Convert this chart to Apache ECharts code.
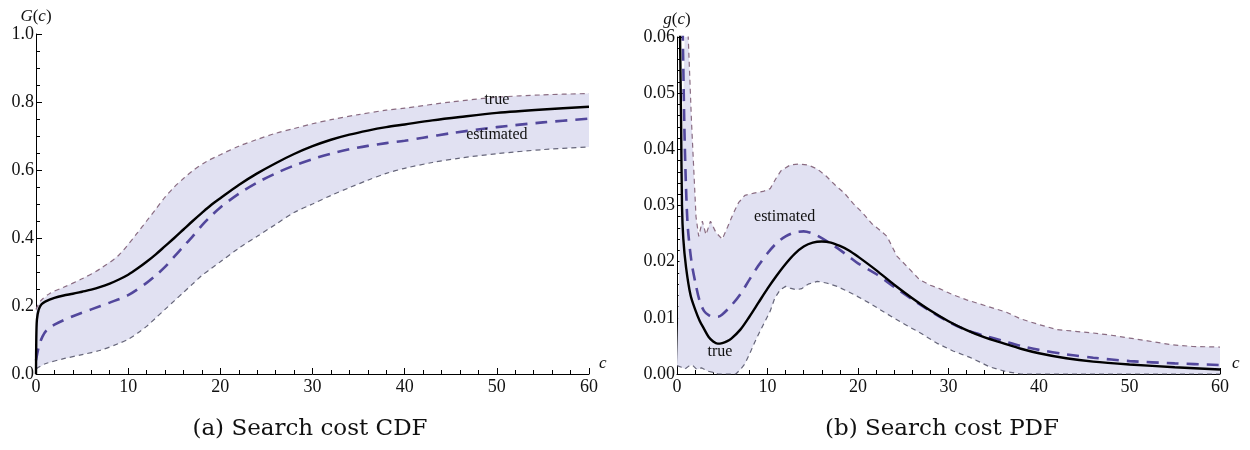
<!DOCTYPE html>
<html>
<head>
<meta charset="utf-8">
<title>Search cost CDF and PDF</title>
<script src="https://cdn.jsdelivr.net/npm/echarts@6/dist/echarts.min.js"></script>
<style>
  html, body { margin: 0; padding: 0; background: #ffffff; }
  #chart { width: 1250px; height: 450px; }
</style>
</head>
<body>
<div id="chart"></div>
<script>
// ---------- (a) Search cost CDF ----------
const cdfTrueC = [0, 0.03, 0.1, 0.3, 0.6, 1, 2, 3, 4, 5, 6, 7, 8, 9, 10, 11, 12, 13, 14, 15, 16, 17, 18, 19, 20, 22, 24, 26, 28, 30, 32, 34, 36, 38, 40, 43, 46, 50, 55, 60];
const cdfTrueG = [0, 0.1, 0.16, 0.19, 0.205, 0.213, 0.224, 0.231, 0.236, 0.242, 0.248, 0.256, 0.266, 0.278, 0.292, 0.31, 0.33, 0.352, 0.376, 0.4, 0.425, 0.45, 0.474, 0.497, 0.517, 0.556, 0.59, 0.62, 0.647, 0.67, 0.689, 0.704, 0.716, 0.726, 0.734, 0.746, 0.756, 0.768, 0.778, 0.786];

const cdfEstC = [0, 0.3, 0.7, 1.2, 2, 4, 6, 8, 10, 12, 13, 14, 15, 16, 17, 18, 19, 20, 22, 24, 26, 28, 30, 32, 34, 36, 38, 40, 42, 45, 50, 55, 60];
const cdfEstG = [0.04, 0.08, 0.11, 0.13, 0.145, 0.17, 0.19, 0.21, 0.232, 0.268, 0.29, 0.315, 0.345, 0.375, 0.405, 0.437, 0.465, 0.49, 0.53, 0.563, 0.59, 0.613, 0.632, 0.648, 0.661, 0.671, 0.679, 0.686, 0.695, 0.708, 0.726, 0.74, 0.751];

const cdfUpC = [0, 0.5, 1.5, 3, 5, 7, 9, 11, 12, 13, 14, 15, 16, 17, 18.5, 20, 22, 24, 26, 28, 30, 32, 35, 38, 40, 45, 50, 55, 60];
const cdfUpG = [0.19, 0.215, 0.237, 0.255, 0.28, 0.31, 0.35, 0.415, 0.45, 0.485, 0.52, 0.55, 0.575, 0.598, 0.625, 0.645, 0.67, 0.69, 0.708, 0.722, 0.736, 0.748, 0.763, 0.776, 0.782, 0.8, 0.814, 0.821, 0.825];

const cdfLoC = [0, 1, 3, 5, 7, 9, 10, 11, 12, 13, 14, 15, 16, 17, 18, 19, 20, 22, 24, 26, 28, 30, 32, 34, 36, 38, 40, 43, 46, 50, 55, 60];
const cdfLoG = [0.015, 0.03, 0.045, 0.057, 0.07, 0.09, 0.102, 0.12, 0.14, 0.165, 0.19, 0.215, 0.24, 0.265, 0.29, 0.31, 0.33, 0.37, 0.405, 0.44, 0.475, 0.5, 0.525, 0.548, 0.57, 0.59, 0.605, 0.622, 0.635, 0.648, 0.66, 0.668];

// ---------- (b) Search cost PDF ----------
const pdfTrueC = [0.3, 0.45, 0.55, 0.7, 1, 1.5, 2, 2.5, 3, 3.5, 4, 4.5, 5, 5.5, 6, 7, 8, 9, 10, 11, 12, 13, 14, 15, 16, 17, 18, 19, 20, 22, 24, 26, 28, 30, 32, 34, 36, 38, 40, 43, 46, 50, 55, 60];
const pdfTrueG = [0.065, 0.045, 0.03, 0.024, 0.019, 0.014, 0.0115, 0.0095, 0.008, 0.0066, 0.0058, 0.0054, 0.0055, 0.0058, 0.0063, 0.0079, 0.0102, 0.0127, 0.0152, 0.0175, 0.0196, 0.0214, 0.0227, 0.0234, 0.0236, 0.0234, 0.0228, 0.022, 0.0209, 0.0185, 0.0159, 0.0135, 0.0113, 0.0094, 0.0078, 0.0065, 0.0055, 0.0045, 0.0037, 0.0028, 0.0022, 0.0017, 0.0012, 0.0008];

const pdfEstC = [0.6, 0.8, 1.0, 1.2, 1.6, 2, 2.5, 3, 3.5, 4, 4.5, 5, 6, 7, 8, 9, 10, 11, 12, 13, 14, 15, 16, 17, 18, 19, 20, 22, 24, 26, 28, 30, 32, 34, 36, 38, 40, 43, 46, 50, 55, 60];
const pdfEstG = [0.065, 0.045, 0.033, 0.026, 0.02, 0.0165, 0.013, 0.0112, 0.0105, 0.0102, 0.0102, 0.0106, 0.0122, 0.0142, 0.0168, 0.0193, 0.0215, 0.0233, 0.0245, 0.0252, 0.0254, 0.025, 0.0242, 0.0232, 0.0221, 0.0209, 0.0197, 0.0178, 0.0155, 0.0133, 0.0112, 0.0093, 0.0078, 0.0068, 0.0059, 0.005, 0.0043, 0.0035, 0.0029, 0.0023, 0.0019, 0.0016];

const pdfUpC = [1.0, 1.6, 2.1, 2.4, 2.8, 3.2, 3.7, 4.3, 5.0, 5.6, 6.2, 6.8, 7.5, 8.5, 9.5, 10.3, 11, 11.5, 12.5, 13.5, 14.5, 15.5, 16.5, 17.5, 18.5, 19.5, 20.5, 21.5, 22.5, 23.2, 24.3, 25.5, 26.8, 28, 29, 30.5, 32, 34, 36.4, 38, 40, 42, 44, 46, 48, 50, 52, 54.7, 57, 60];
const pdfUpG = [0.07, 0.045, 0.028, 0.0245, 0.0272, 0.0248, 0.0272, 0.0252, 0.024, 0.0262, 0.0285, 0.0305, 0.0318, 0.0322, 0.0325, 0.033, 0.035, 0.0362, 0.0372, 0.0374, 0.0372, 0.0365, 0.0352, 0.0336, 0.0322, 0.0303, 0.0287, 0.0268, 0.0255, 0.0245, 0.021, 0.019, 0.0168, 0.0158, 0.0152, 0.0141, 0.0132, 0.0122, 0.011, 0.0098, 0.0088, 0.0079, 0.0076, 0.0073, 0.0069, 0.0064, 0.0059, 0.0052, 0.0049, 0.0048];

const pdfLoC = [0, 0.5, 0.9, 1.3, 1.7, 2.2, 2.7, 3.4, 4, 4.5, 6.5, 7, 7.5, 8, 8.6, 9.2, 9.7, 10.3, 10.8, 11.4, 12, 12.5, 13.2, 13.8, 14.5, 15.5, 16.5, 17.7, 19.5, 21.3, 23, 25, 27, 28.7, 30.5, 32.3, 33.5, 34.5, 36.4, 38, 60];
const pdfLoG = [0.0015, 0.0012, 0.0009, 0.0014, 0.0016, 0.0008, 0.0011, 0.0005, 0.0003, 0, 0, 0.0008, 0.0018, 0.0035, 0.0057, 0.0077, 0.0093, 0.0112, 0.0135, 0.015, 0.0156, 0.0153, 0.015, 0.0152, 0.016, 0.0165, 0.0162, 0.0156, 0.0142, 0.0126, 0.0109, 0.009, 0.0072, 0.0055, 0.0041, 0.003, 0.0021, 0.0013, 0.0004, 0, 0];

// curve annotations: [text, c, value]
const cdfNotes = [['true', 50, 0.806], ['estimated', 50, 0.703]];
const pdfNotes = [['estimated', 11.9, 0.028], ['true', 4.75, 0.0039]];

const captions = ['(a) Search cost CDF', '(b) Search cost PDF'];

// ---------- styling ----------
const serif = '"Liberation Serif", "Times New Roman", serif';
const captionFont = '"DejaVu Serif", serif';
const ink = '#111111';
const bandFill = 'rgb(225, 225, 242)';
const estColor = '#52479c';
const upColor = '#8a6c82';
const loColor = '#66667a';

function zip(xs, ys) { return xs.map((x, i) => [x, ys[i]]); }

// shaded region between the upper and lower estimate bounds
function bandSeries(gi, upX, upY, loX, loY) {
  return {
    type: 'custom', xAxisIndex: gi, yAxisIndex: gi, clip: true, silent: true, z: 1,
    data: [[upX[0], upY[0]]],
    renderItem: function (params, api) {
      const pts = [];
      for (let i = 0; i < upX.length; i++) pts.push(api.coord([upX[i], upY[i]]));
      for (let i = loX.length - 1; i >= 0; i--) pts.push(api.coord([loX[i], loY[i]]));
      return { type: 'polygon', shape: { points: pts }, style: { fill: bandFill } };
    }
  };
}

function lineSeries(gi, xs, ys, color, width, dash, z, smooth) {
  return {
    type: 'line', xAxisIndex: gi, yAxisIndex: gi, data: zip(xs, ys),
    showSymbol: false, symbol: 'none', silent: true, clip: true, z: z,
    smooth: smooth,
    lineStyle: { color: color, width: width, type: dash },
    animation: false
  };
}

function noteSeries(gi, notes) {
  return {
    type: 'scatter', xAxisIndex: gi, yAxisIndex: gi, symbolSize: 0, silent: true, z: 10,
    data: notes.map(n => ({ value: [n[1], n[2]], name: n[0] })),
    itemStyle: { opacity: 1 },
    label: {
      show: true, position: 'inside', formatter: '{b}',
      fontFamily: serif, fontSize: 16, color: ink
    }
  };
}

function xAxis(gi, gap) {
  return {
    type: 'value', gridIndex: gi, min: 0, max: 60, interval: 10,
    name: 'c', nameLocation: 'end', nameGap: gap,
    nameTextStyle: { fontFamily: serif, fontStyle: 'italic', fontSize: 17, color: ink, verticalAlign: 'bottom', padding: [0, 0, 2, 0] },
    axisLine: { show: true, onZero: false, lineStyle: { color: '#000', width: 1 } },
    axisTick: { show: true, inside: true, length: 6, lineStyle: { color: '#000', width: 1 } },
    minorTick: { show: true, splitNumber: 5, length: 4, lineStyle: { color: '#000', width: 1 } },
    splitLine: { show: false },
    axisLabel: { fontFamily: serif, fontSize: 18, color: ink, margin: 4, showMinLabel: true, showMaxLabel: true }
  };
}

function yAxis(gi, max, interval, minorSplit, digits, letter) {
  return {
    type: 'value', gridIndex: gi, min: 0, max: max, interval: interval,
    name: '{i|' + letter + '}(' + '{i|c})', nameLocation: 'end', nameGap: 9,
    nameTextStyle: {
      fontFamily: serif, fontSize: 17, color: ink, align: 'center',
      rich: { i: { fontFamily: serif, fontStyle: 'italic', fontSize: 17, color: ink } }
    },
    axisLine: { show: true, onZero: false, lineStyle: { color: '#000', width: 1 } },
    axisTick: { show: true, inside: true, length: 6, lineStyle: { color: '#000', width: 1 } },
    minorTick: { show: true, splitNumber: minorSplit, length: 4, lineStyle: { color: '#000', width: 1 } },
    splitLine: { show: false },
    axisLabel: {
      fontFamily: serif, fontSize: 18, color: ink, margin: 2,
      showMinLabel: true, showMaxLabel: true,
      formatter: v => v.toFixed(digits)
    }
  };
}

const chart = echarts.init(document.getElementById('chart'), null, { renderer: 'canvas' });

chart.setOption({
  animation: false,
  backgroundColor: '#ffffff',
  grid: [
    { left: 36, top: 34, width: 553, height: 340, outerBoundsMode: 'none', containLabel: false },
    { left: 677, top: 37, width: 543, height: 337, outerBoundsMode: 'none', containLabel: false }
  ],
  xAxis: [xAxis(0, 10), xAxis(1, 12)],
  yAxis: [
    yAxis(0, 1.0, 0.2, 4, 1, 'G'),
    yAxis(1, 0.06, 0.01, 5, 2, 'g')
  ],
  series: [
    bandSeries(0, cdfUpC, cdfUpG, cdfLoC, cdfLoG),
    lineSeries(0, cdfUpC, cdfUpG, upColor, 1.2, [5, 4], 3, 0.3),
    lineSeries(0, cdfLoC, cdfLoG, loColor, 1.2, [5, 4], 3, 0.3),
    lineSeries(0, cdfEstC, cdfEstG, estColor, 2.6, [12, 8], 4, 0.3),
    lineSeries(0, cdfTrueC, cdfTrueG, '#000000', 2.4, 'solid', 5, 0.3),
    noteSeries(0, cdfNotes),

    bandSeries(1, pdfUpC, pdfUpG, pdfLoC, pdfLoG),
    lineSeries(1, pdfUpC, pdfUpG, upColor, 1.2, [5, 4], 3, false),
    lineSeries(1, pdfLoC, pdfLoG, loColor, 1.2, [5, 4], 3, false),
    lineSeries(1, pdfEstC, pdfEstG, estColor, 2.6, [12, 8], 4, 0.3),
    lineSeries(1, pdfTrueC, pdfTrueG, '#000000', 2.4, 'solid', 5, 0.3),
    noteSeries(1, pdfNotes)
  ],
  graphic: [
    {
      type: 'text', x: 310, y: 429,
      style: { text: captions[0], fontFamily: captionFont, fontSize: 23, fill: ink, align: 'center', verticalAlign: 'middle' }
    },
    {
      type: 'text', x: 942, y: 429,
      style: { text: captions[1], fontFamily: captionFont, fontSize: 23, fill: ink, align: 'center', verticalAlign: 'middle' }
    }
  ]
});
</script>
</body>
</html>
